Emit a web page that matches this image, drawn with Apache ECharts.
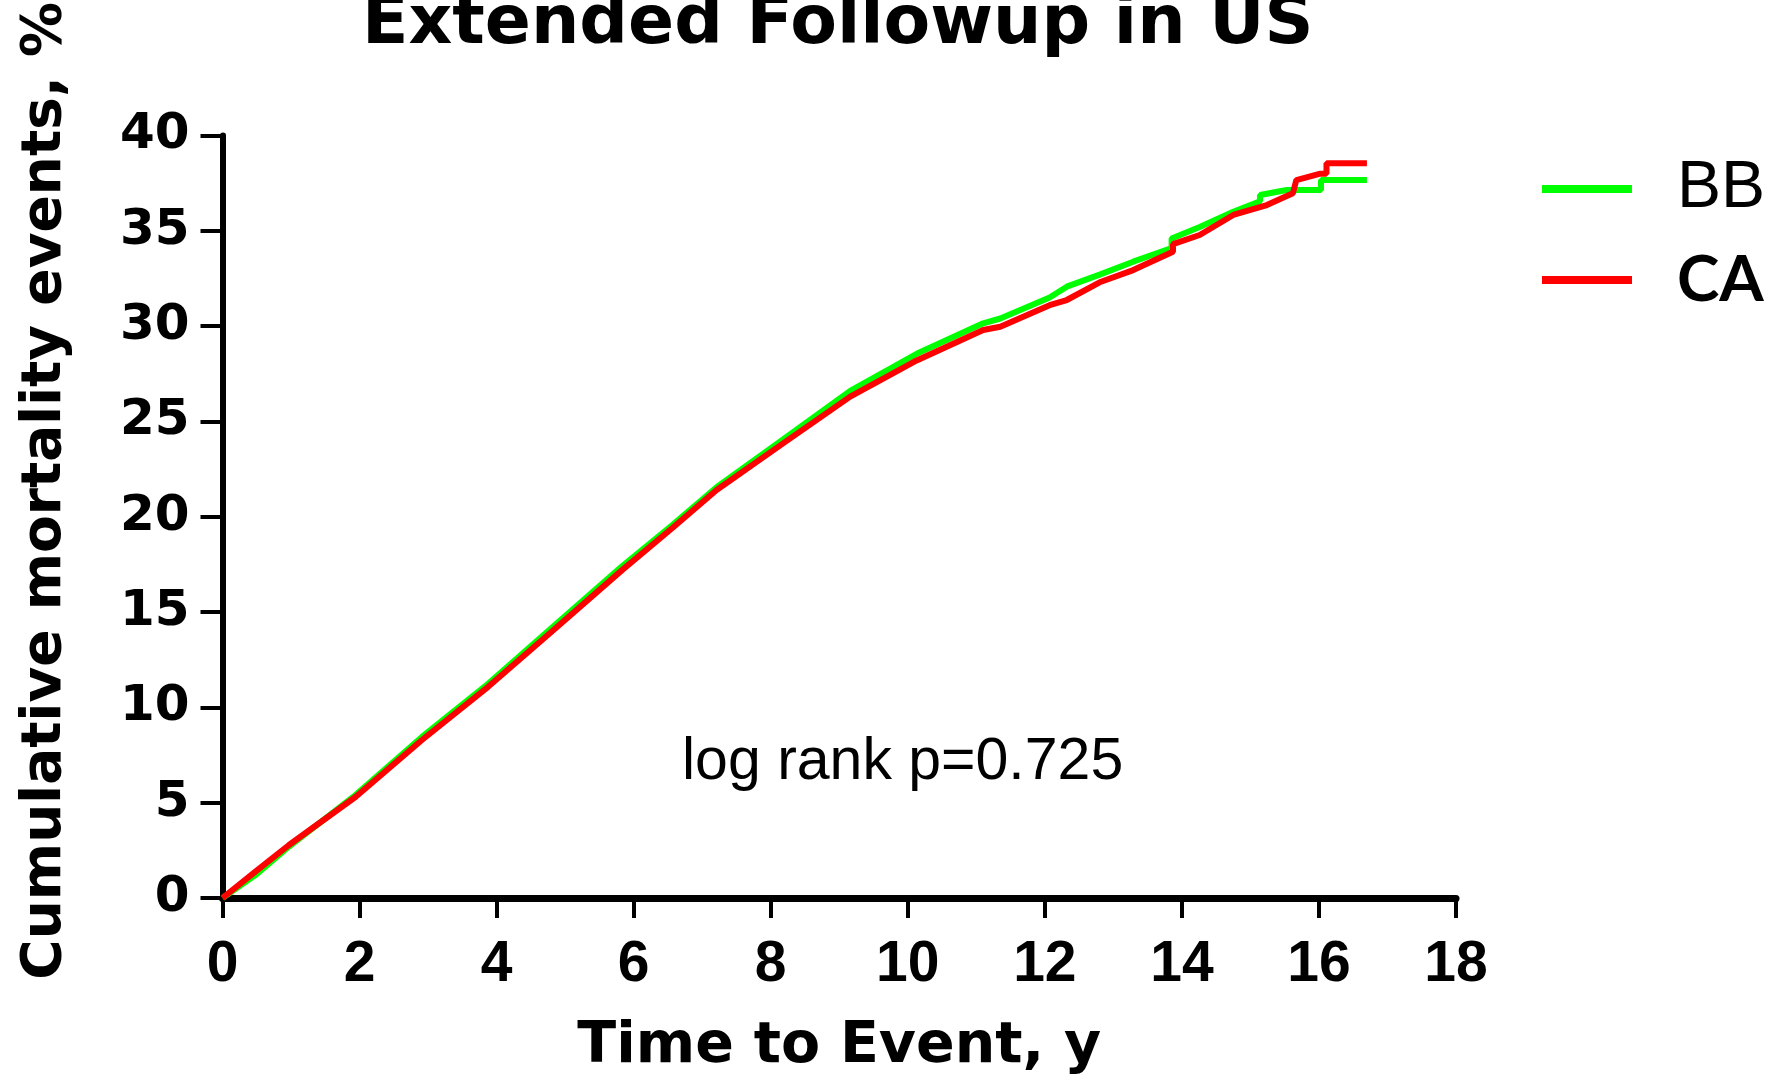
<!DOCTYPE html>
<html>
<head>
<meta charset="utf-8">
<script src="https://cdn.jsdelivr.net/npm/echarts@6/dist/echarts.min.js"></script>
<style>
html,body{margin:0;padding:0;background:#fff;}
#chart{width:1771px;height:1076px;}
</style>
</head>
<body>
<div id="chart"></div>
<script>
// Time to event (years) and cumulative mortality (%)
const bbTime = [0, 0.48, 0.97, 1.94, 2.91, 3.88, 4.86, 5.83, 6.56, 7.21, 8.18, 9.16, 10.13, 11.1, 11.35, 12.07, 12.32, 12.8, 13.29, 13.85, 13.85, 14.26, 14.75, 15.14, 15.14, 15.53, 16.03, 16.03, 16.7];
const bbPct  = [0, 1.2, 2.7, 5.4, 8.45, 11.25, 14.35, 17.4, 19.55, 21.55, 24.05, 26.6, 28.55, 30.15, 30.4, 31.5, 32.07, 32.7, 33.38, 34.1, 34.6, 35.2, 36.0, 36.55, 36.88, 37.14, 37.14, 37.66, 37.66];

const caTime = [0, 0.48, 0.97, 1.94, 2.91, 3.88, 4.86, 5.83, 6.56, 7.21, 8.18, 9.16, 10.13, 11.1, 11.35, 12.07, 12.32, 12.8, 13.29, 13.87, 13.87, 14.26, 14.75, 15.24, 15.62, 15.67, 16.02, 16.11, 16.11, 16.7];
const caPct  = [0, 1.38, 2.78, 5.3, 8.29, 11.09, 14.15, 17.2, 19.4, 21.4, 23.85, 26.3, 28.2, 29.8, 29.97, 31.1, 31.37, 32.3, 32.94, 33.9, 34.3, 34.78, 35.83, 36.35, 36.97, 37.66, 38.0, 38.0, 38.54, 38.54];

const seriesNames = ['BB', 'CA'];
const seriesColors = ['#00ff00', '#ff0000'];
const xTicks = {min: 0, max: 18, interval: 2};
const yTicks = {min: 0, max: 40, interval: 5};
const titleText = 'Extended Followup in US';
const xName = 'Time to Event, y';
const yName = 'Cumulative mortality events, %';
const noteText = 'log rank p=0.725';

const chart = echarts.init(document.getElementById('chart'));
const pairs = (t, v) => t.map((x, i) => [x, v[i]]);

chart.setOption({
  backgroundColor: '#fff',
  animation: false,
  title: {
    text: titleText,
    left: 362,
    top: -8.5,
    padding: 0,
    textStyle: {fontFamily: 'DejaVu Sans', fontWeight: 'bold', fontSize: 68, color: '#000', lineHeight: 68}
  },
  legend: {
    orient: 'vertical',
    left: 1542,
    top: 154,
    padding: 0,
    itemWidth: 90,
    itemHeight: 8,
    itemGap: 21,
    icon: 'rect',
    selectedMode: false,
    textStyle: {fontFamily: 'Liberation Sans', fontSize: 66, lineHeight: 70, color: '#000', padding: [0, 0, 0, 40]},
    data: [
      {name: seriesNames[0]},
      {name: seriesNames[1], textStyle: {fontFamily: 'Lato', fontWeight: 'bold', fontSize: 64, lineHeight: 70, color: '#000', padding: [0, 0, 0, 40]}}
    ]
  },
  grid: {left: 222.5, right: 315, top: 135.5, bottom: 178, outerBoundsMode: 'none', containLabel: false},
  xAxis: {
    type: 'value',
    min: xTicks.min, max: xTicks.max, interval: xTicks.interval,
    name: xName,
    nameLocation: 'middle',
    nameGap: 121,
    nameTextStyle: {fontFamily: 'DejaVu Sans', fontWeight: 'bold', fontSize: 57, lineHeight: 57, color: '#000'},
    axisLine: {show: true, onZero: false, lineStyle: {color: '#000', width: 7}},
    axisTick: {show: true, inside: false, length: 20, lineStyle: {color: '#000', width: 4}},
    axisLabel: {margin: 39, fontFamily: 'Liberation Sans', fontWeight: 'bold', fontSize: 57, lineHeight: 57, color: '#000'},
    splitLine: {show: false}
  },
  yAxis: {
    type: 'value',
    min: yTicks.min, max: yTicks.max, interval: yTicks.interval,
    name: yName,
    nameLocation: 'middle',
    nameGap: 149,
    nameRotate: 90,
    nameTextStyle: {fontFamily: 'DejaVu Sans', fontWeight: 'bold', fontSize: 55, lineHeight: 55, color: '#000', padding: [0, 0, 0, 52]},
    axisLine: {show: true, onZero: false, lineStyle: {color: '#000', width: 6}},
    axisTick: {show: true, inside: false, length: 22, lineStyle: {color: '#000', width: 4}},
    axisLabel: {margin: 33, fontFamily: 'DejaVu Sans', fontWeight: 'bold', fontSize: 50, color: '#000'},
    splitLine: {show: false}
  },
  graphic: [{
    type: 'text',
    left: 682,
    top: 733,
    style: {text: noteText, fontFamily: 'Liberation Sans', fontSize: 59, fill: '#000'}
  }],
  series: [
    {
      name: seriesNames[0], type: 'line', data: pairs(bbTime, bbPct),
      showSymbol: false, symbol: 'none',
      lineStyle: {color: seriesColors[0], width: 6},
      itemStyle: {color: seriesColors[0]}, z: 2
    },
    {
      name: seriesNames[1], type: 'line', data: pairs(caTime, caPct),
      showSymbol: false, symbol: 'none',
      lineStyle: {color: seriesColors[1], width: 6},
      itemStyle: {color: seriesColors[1]}, z: 3
    }
  ]
});
</script>
</body>
</html>
